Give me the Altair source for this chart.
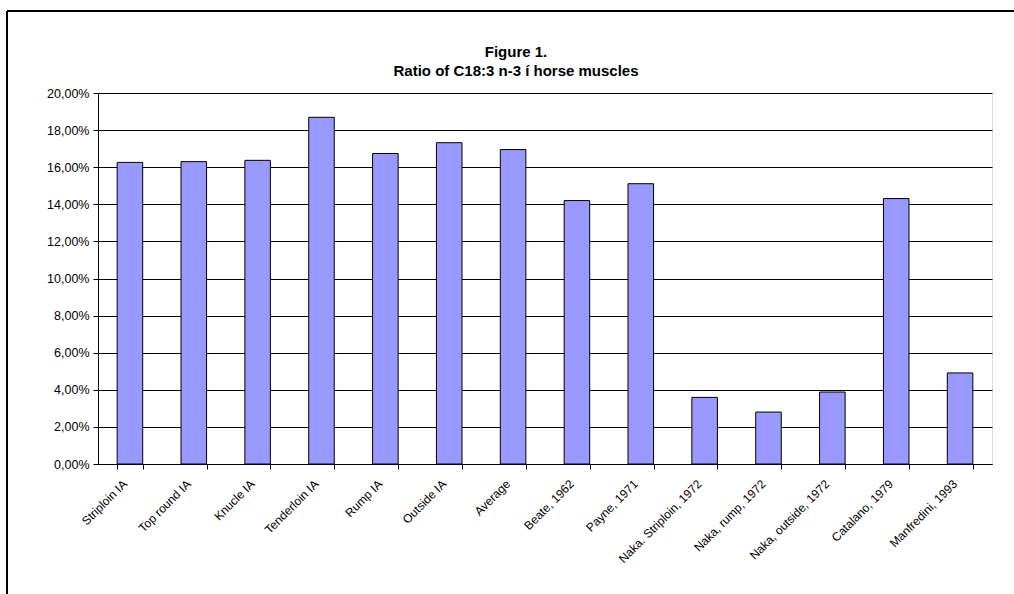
import altair as alt
import pandas as pd

categories = ["Striploin IA", "Top round IA", "Knucle IA", "Tenderloin IA", "Rump IA",
              "Outside IA", "Average", "Beate, 1962", "Payne, 1971",
              "Naka. Striploin, 1972", "Naka, rump, 1972", "Naka, outside, 1972",
              "Catalano, 1979", "Manfredini, 1993"]
values = [0.1626, 0.1630, 0.1637, 0.1869, 0.1674, 0.1732, 0.1695, 0.1420, 0.1511,
          0.0359, 0.0280, 0.0388, 0.1431, 0.0491]
y_ticks = [0.0, 0.02, 0.04, 0.06, 0.08, 0.10, 0.12, 0.14, 0.16, 0.18, 0.20]
title_lines = ["Figure 1.", "Ratio of C18:3 n-3 í horse muscles"]

df = pd.DataFrame({"cat": categories, "val": values})

FONT = "Liberation Sans"
W, H = 894, 371

bars = alt.Chart(df).mark_bar(fill="#9999FF", stroke="#000000", strokeWidth=1).encode(
    x=alt.X("cat:N", sort=categories, title=None,
            scale=alt.Scale(paddingInner=0.6, paddingOuter=0.3),
            axis=alt.Axis(labelAngle=-45, labelAlign="right", labelBaseline="top",
                          labelOffset=-9, labelPadding=9,
                          tickBand="extent", tickSize=5, tickColor="#000000",
                          domainColor="#000000", labelFont=FONT, labelFontSize=12,
                          labelColor="#000000", grid=False)),
    y=alt.Y("val:Q", title=None,
            scale=alt.Scale(domain=[0, 0.2], nice=False),
            axis=alt.Axis(values=y_ticks, tickSize=5, tickColor="#000000",
                          domainColor="#000000", gridColor="#000000", gridOpacity=1,
                          labelFont=FONT, labelFontSize=12.5, labelColor="#000000",
                          labelPadding=4,
                          labelExpr="replace(format(datum.value, '.2%'), '.', ',')")),
)

t1 = alt.Chart(pd.DataFrame({"t": [title_lines[0]]})).mark_text(
    font=FONT, fontSize=15, fontWeight="bold", color="#000000", align="center",
    baseline="alphabetic").encode(text="t:N", x=alt.value(W / 2 - 29), y=alt.value(-36))
t2 = alt.Chart(pd.DataFrame({"t": [title_lines[1]]})).mark_text(
    font=FONT, fontSize=15, fontWeight="bold", color="#000000", align="center",
    baseline="alphabetic").encode(text="t:N", x=alt.value(W / 2 - 29), y=alt.value(-17))

top_border = alt.Chart(df).mark_rule(color="#000000", strokeWidth=2).encode(
    x=alt.value(-91), x2=alt.value(W + 40), y=alt.value(-82))
left_border = alt.Chart(df).mark_rule(color="#000000", strokeWidth=2).encode(
    x=alt.value(-91), y=alt.value(-82), y2=alt.value(H + 200))

chart = alt.layer(bars, t1, t2, top_border, left_border).properties(
    width=W, height=H,
    autosize=alt.AutoSizeParams(type="none"),
    padding={"left": 98, "top": 93, "right": 22, "bottom": 130},
).configure_view(stroke=None).configure(background="white")

chart.save("out.html", embed_options={"renderer": "svg", "actions": False})
